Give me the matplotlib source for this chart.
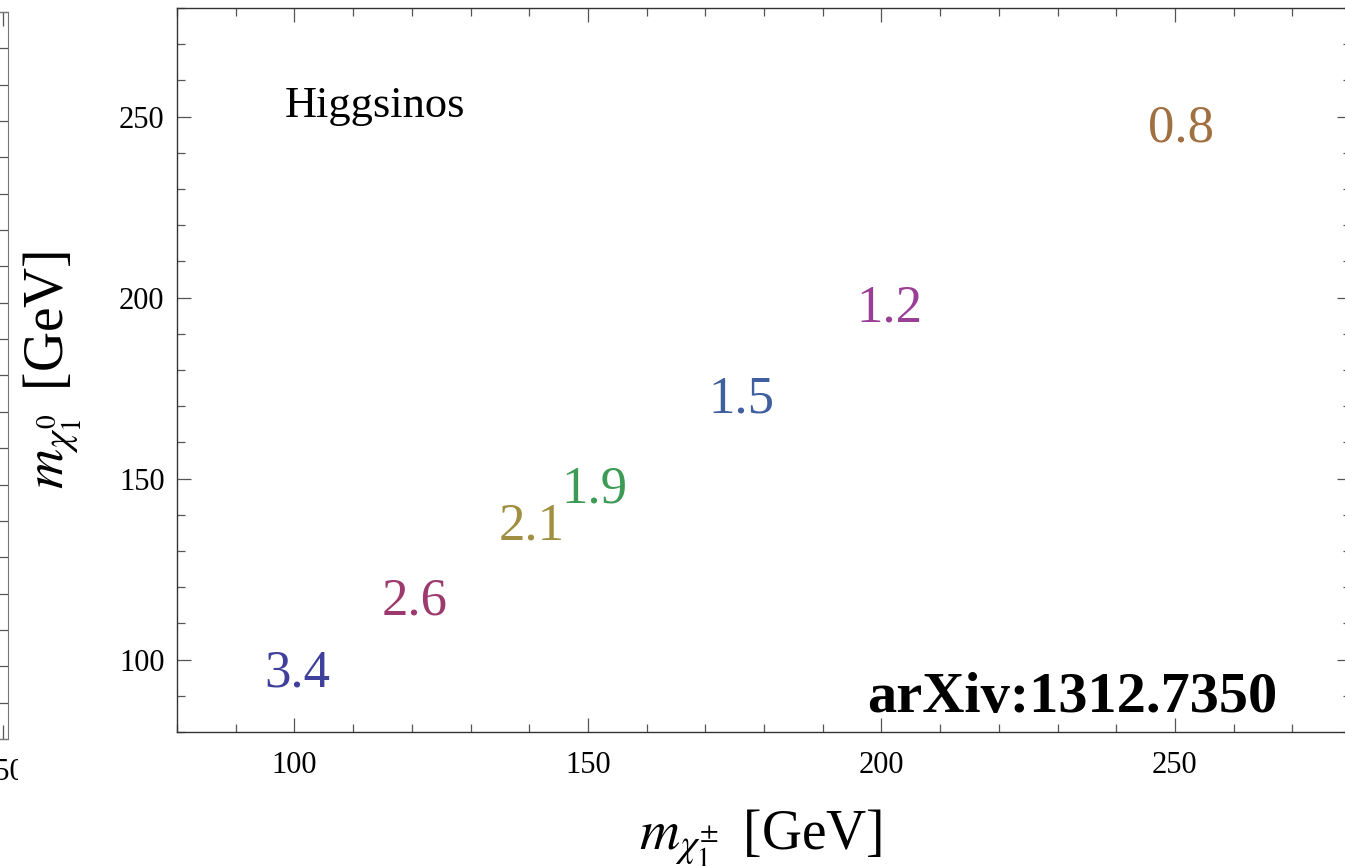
import matplotlib
matplotlib.use("Agg")
import matplotlib.pyplot as plt
from matplotlib.ticker import MultipleLocator
from matplotlib.patches import Rectangle

plt.rcParams['font.family'] = ['Liberation Serif', 'DejaVu Serif']
plt.rcParams['mathtext.fontset'] = 'stix'

# mass splitting labels (text placed at the chargino/neutralino mass point)
labels = ['3.4', '2.6', '2.1', '1.9', '1.5', '1.2', '0.8']
m_chargino = [100.5, 120.5, 140.4, 151.1, 176.2, 201.4, 251.0]
m_neutralino = [92.5, 112.4, 133.1, 143.4, 168.2, 193.4, 243.1]
colors = ['#3f3f9c', '#9c3a6e', '#a08f40', '#3e9b55', '#3f5f9f', '#9a3f96', '#a07040']

x_ticks = [100, 150, 200, 250]
y_ticks = [100, 150, 200, 250]

W, H = 1345, 866
fig = plt.figure(figsize=(W / 100, H / 100), dpi=100)

# main panel
ax = fig.add_axes([177 / W, (H - 732) / H, 1174 / W, 724 / H])
ax.set_xlim(80, 280)
ax.set_ylim(80, 280)
ax.set_xticks(x_ticks)
ax.set_yticks(y_ticks)
ax.xaxis.set_minor_locator(MultipleLocator(10))
ax.yaxis.set_minor_locator(MultipleLocator(10))
ax.tick_params(which='both', direction='in', top=True, right=True, width=0.9, color='#555555')
ax.tick_params(which='major', length=10)
ax.tick_params(which='minor', length=5.8)
ax.tick_params(axis='x', labelsize=22, pad=13.5)
ax.tick_params(axis='y', labelsize=22, pad=9)
for s in ax.spines.values():
    s.set_color('#333333')
    s.set_linewidth(1.0)

for lab, x, y, c in zip(labels, m_chargino, m_neutralino, colors):
    ax.text(x, y, lab, color=c, fontsize=38, ha='center', va='baseline')

ax.text(98.3, 250, 'Higgsinos', fontsize=32, ha='left', va='baseline')
ax.text(267.4, 85.6, 'arXiv:1312.7350', fontsize=42, fontweight='bold', ha='right', va='baseline')

fig.text(761 / W, (H - 849) / H, r'$m_{\chi_1^{\pm}}\,$ [GeV]', fontsize=40, ha='center', va='baseline')
fig.text(52 / W, (H - 370) / H, r'$m_{\chi_1^0}\,$ [GeV]', fontsize=40, ha='center', va='center', rotation=90)

# fragment of the neighbouring panel on the left edge
ax0 = fig.add_axes([-900 / W, (H - 739) / H, 908 / W, 727 / H])
ax0.set_zorder(-2)
ax0.set_xlim(0, 1)
ax0.set_ylim(80, 280)
ax0.set_xticks([(900 + 2.5) / 908])
ax0.set_xticklabels(['250'])
ax0.set_yticks(range(80, 281, 10))
ax0.set_yticklabels([])
ax0.tick_params(direction='in', top=True, right=True, length=10, width=0.9, color='#555555',
                labelsize=22, pad=13.5)
for s in ax0.spines.values():
    s.set_color('#777777')

# white backing that hides the fragment behind the main panel image
cover = Rectangle((18 / W, 0), 1, 1, transform=fig.transFigure, facecolor='white',
                  edgecolor='none', zorder=-1)
fig.patches.append(cover)

fig.savefig('out.png', dpi=100)
